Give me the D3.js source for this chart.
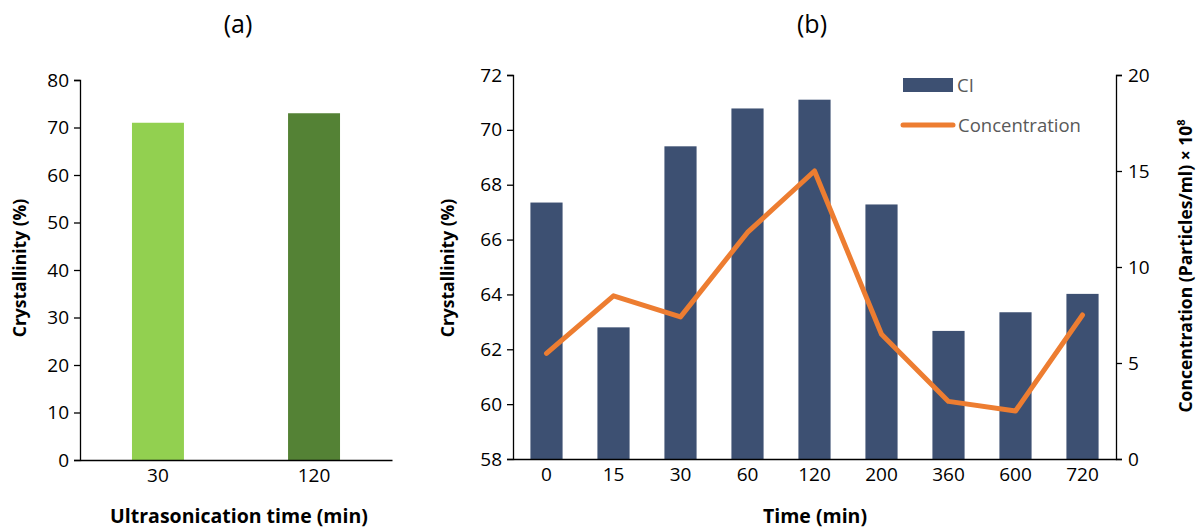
<!DOCTYPE html>
<html>
<head>
<meta charset="utf-8">
<script src="https://cdnjs.cloudflare.com/ajax/libs/d3/7.8.5/d3.min.js"></script>
<style>
  body { margin: 0; background: #fff; }
  text { font-family: "Open Sans", sans-serif; }
</style>
</head>
<body>
<svg id="chart" width="1202" height="529"></svg>
<script>
// panel (a)
var sonicTimes = ["30", "120"];
var sonicCryst = [71, 73];
var sonicColors = ["#92d050", "#548235"];
var aTicks = [0, 10, 20, 30, 40, 50, 60, 70, 80];

// panel (b)
var times = ["0", "15", "30", "60", "120", "200", "360", "600", "720"];
var ciValues = [67.35, 62.8, 69.4, 70.78, 71.1, 67.28, 62.67, 63.35, 64.02];
var concValues = [5.5, 8.5, 7.4, 11.8, 15.0, 6.5, 3.0, 2.5, 7.5];
var ciTicks = [58, 60, 62, 64, 66, 68, 70, 72];
var concTicks = [0, 5, 10, 15, 20];

var svg = d3.select("#chart");
var tickFont = 19;
var titleFont = 17.5;
var xTitleFont = 19.5;

function styleAxis(g) {
	g.select(".domain").attr("stroke", "#000").attr("stroke-width", 1.3);
	g.selectAll(".tick line").attr("stroke", "#000").attr("stroke-width", 1.3);
	g.selectAll(".tick text").attr("font-size", tickFont).attr("fill", "#000")
		.style("font-family", "'Open Sans', sans-serif");
}

// ---------- (a) ----------
var ax = d3.scaleBand().domain(sonicTimes).range([80, 392]).paddingInner(0.667).paddingOuter(0.333);
var ay = d3.scaleLinear().domain([0, 80]).range([460, 80]);

svg.append("g").selectAll("rect").data(sonicCryst).enter().append("rect")
	.attr("x", function (d, i) { return ax(sonicTimes[i]); })
	.attr("width", ax.bandwidth())
	.attr("y", function (d) { return ay(d); })
	.attr("height", function (d) { return ay(0) - ay(d); })
	.attr("fill", function (d, i) { return sonicColors[i]; });

svg.append("g").attr("transform", "translate(80,0)")
	.call(d3.axisLeft(ay).tickValues(aTicks).tickSize(6).tickPadding(5))
	.call(styleAxis);

svg.append("g").attr("transform", "translate(0,460)")
	.call(d3.axisBottom(ax).tickSize(0).tickPadding(9).tickSizeOuter(0))
	.call(styleAxis);

svg.append("text").attr("x", 238).attr("y", 33).attr("text-anchor", "middle")
	.attr("font-size", 25).text("(a)");
svg.append("text").attr("x", 239).attr("y", 523).attr("text-anchor", "middle")
	.attr("font-size", xTitleFont).attr("font-weight", "bold").text("Ultrasonication time (min)");
svg.append("text").attr("transform", "translate(26,268) rotate(-90)").attr("text-anchor", "middle")
	.attr("font-size", titleFont).attr("font-weight", "bold").text("Crystallinity (%)");

// ---------- (b) ----------
var bx = d3.scaleBand().domain(times).range([513, 1116]).paddingInner(0.52).paddingOuter(0.26);
var by = d3.scaleLinear().domain([58, 72]).range([459, 75]);
var by2 = d3.scaleLinear().domain([0, 20]).range([459, 75]);

svg.append("g").selectAll("rect").data(ciValues).enter().append("rect")
	.attr("x", function (d, i) { return bx(times[i]); })
	.attr("width", bx.bandwidth())
	.attr("y", function (d) { return by(d); })
	.attr("height", function (d) { return by(58) - by(d); })
	.attr("fill", "#3d5072");

var line = d3.line()
	.x(function (d, i) { return bx(times[i]) + bx.bandwidth() / 2; })
	.y(function (d) { return by2(d); });

svg.append("path").datum(concValues)
	.attr("d", line)
	.attr("fill", "none")
	.attr("stroke", "#ed7d31")
	.attr("stroke-width", 5)
	.attr("stroke-linejoin", "round")
	.attr("stroke-linecap", "round");

svg.append("g").attr("transform", "translate(513,0)")
	.call(d3.axisLeft(by).tickValues(ciTicks).tickSize(6).tickPadding(5))
	.call(styleAxis);

svg.append("g").attr("transform", "translate(1116,0)")
	.call(d3.axisRight(by2).tickValues(concTicks).tickSize(6).tickPadding(6))
	.call(styleAxis);

svg.append("g").attr("transform", "translate(0,459)")
	.call(d3.axisBottom(bx).tickSize(0).tickPadding(9).tickSizeOuter(0))
	.call(styleAxis);

// legend
var legend = svg.append("g");
legend.append("rect").attr("x", 903).attr("y", 78).attr("width", 50).attr("height", 14).attr("fill", "#3d5072");
legend.append("text").attr("x", 957).attr("y", 92).attr("font-size", 18.5).attr("fill", "#595959").text("CI");
legend.append("line").attr("x1", 903).attr("x2", 953).attr("y1", 125).attr("y2", 125)
	.attr("stroke", "#ed7d31").attr("stroke-width", 5).attr("stroke-linecap", "round");
legend.append("text").attr("x", 958).attr("y", 132).attr("font-size", 18.5).attr("fill", "#595959").text("Concentration");

svg.append("text").attr("x", 812).attr("y", 33).attr("text-anchor", "middle")
	.attr("font-size", 25).text("(b)");
svg.append("text").attr("x", 815).attr("y", 523).attr("text-anchor", "middle")
	.attr("font-size", xTitleFont).attr("font-weight", "bold").text("Time (min)");
svg.append("text").attr("transform", "translate(454,268) rotate(-90)").attr("text-anchor", "middle")
	.attr("font-size", titleFont).attr("font-weight", "bold").text("Crystallinity (%)");
var rt = svg.append("text").attr("transform", "translate(1192,266) rotate(-90)").attr("text-anchor", "middle")
	.attr("font-size", titleFont).attr("font-weight", "bold");
rt.append("tspan").text("Concentration (Particles/ml) × 10");
rt.append("tspan").attr("font-size", 11).attr("dy", -7).text("8");
</script>
</body>
</html>
